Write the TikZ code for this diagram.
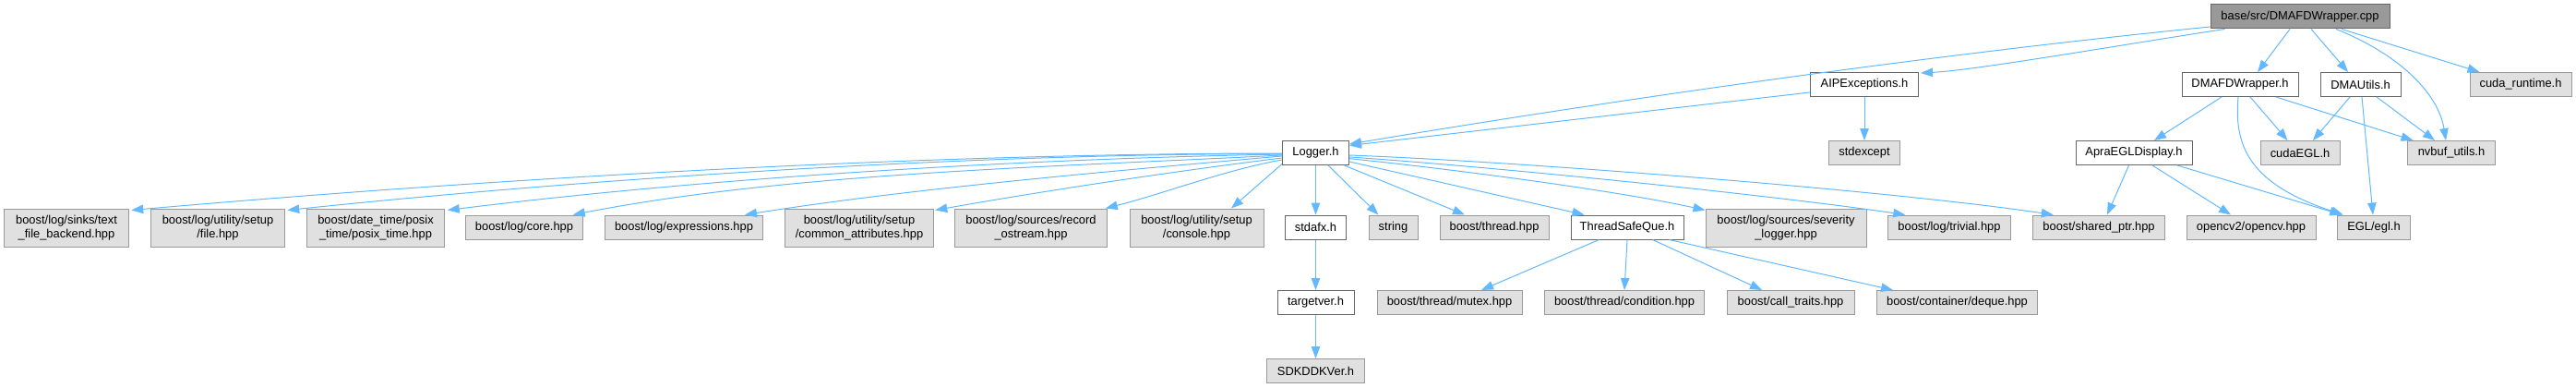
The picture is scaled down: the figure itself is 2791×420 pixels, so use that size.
\documentclass[tikz,border=0pt]{standalone}
\usepackage{fontspec}
\setmainfont{Liberation Sans}
\usetikzlibrary{arrows.meta}
\definecolor{edgec}{HTML}{63B8FF}
\definecolor{gfill}{HTML}{E0E0E0}
\definecolor{gborder}{HTML}{999999}
\definecolor{wborder}{HTML}{666666}
\definecolor{rfill}{HTML}{999999}
\tikzset{
  base/.style={rectangle, draw, line width=1pt, inner sep=0pt, align=center,
    font=\fontsize{12.9}{15}\selectfont, text=black},
  gbox/.style={base, fill=gfill, draw=gborder},
  wbox/.style={base, fill=white, draw=wborder},
  rbox/.style={base, fill=rfill, draw=wborder},
  one/.style={minimum height=26pt},
  two/.style={minimum height=41pt},
  edge/.style={draw=edgec, line width=1pt, -{Triangle[length=13pt,width=9.5pt]}}
}
\begin{document}
\begin{tikzpicture}[x=1pt,y=-1pt]
\useasboundingbox (0,0) rectangle (2791,420);
% row 0
\node[rbox,one,minimum width=194pt] (root) at (2492,18) {base/src/DMAFDWrapper.cpp};
% row 1
\node[wbox,one,minimum width=117pt] (aip) at (2020,91.5) {AIPExceptions.h};
\node[wbox,one,minimum width=126pt] (dmafdh) at (2427,91.5) {DMAFDWrapper.h};
\node[wbox,one,minimum width=87pt] (dmautils) at (2557.5,91.5) {DMAUtils.h};
\node[gbox,one,minimum width=110pt] (cudart) at (2731,91.5) {cuda\_runtime.h};
% row 2
\node[wbox,one,minimum width=72pt] (logger) at (1425.5,165.5) {Logger.h};
\node[gbox,one,minimum width=77pt] (stdexcept) at (2020,165.5) {stdexcept};
\node[wbox,one,minimum width=126pt] (apra) at (2312,165.5) {ApraEGLDisplay.h};
\node[gbox,one,minimum width=86pt] (cudaegl) at (2492,165.5) {cudaEGL.h};
\node[gbox,one,minimum width=95pt] (nvbuf) at (2656,165.5) {nvbuf\_utils.h};
% row 3
\node[gbox,two,minimum width=135.5pt] (tfb) at (72,246.5) {boost/log/sinks/text\\\_file\_backend.hpp};
\node[gbox,two,minimum width=144.5pt] (file) at (236,246.5) {boost/log/utility/setup\\/file.hpp};
\node[gbox,two,minimum width=148.5pt] (posix) at (407,246.5) {boost/date\_time/posix\\\_time/posix\_time.hpp};
\node[gbox,one,minimum width=127.5pt] (core) at (568,246) {boost/log/core.hpp};
\node[gbox,one,minimum width=171.5pt] (expr) at (741,246) {boost/log/expressions.hpp};
\node[gbox,two,minimum width=160.5pt] (common) at (931,246.5) {boost/log/utility/setup\\/common\_attributes.hpp};
\node[gbox,two,minimum width=164.5pt] (record) at (1117,246.5) {boost/log/sources/record\\\_ostream.hpp};
\node[gbox,two,minimum width=145pt] (console) at (1296.5,246.5) {boost/log/utility/setup\\/console.hpp};
\node[wbox,one,minimum width=66.5pt] (stdafx) at (1425.5,246) {stdafx.h};
\node[gbox,one,minimum width=53pt] (string) at (1509.5,246) {string};
\node[gbox,one,minimum width=118pt] (thread) at (1619,246) {boost/thread.hpp};
\node[wbox,one,minimum width=122pt] (tsq) at (1763,246) {ThreadSafeQue.h};
\node[gbox,two,minimum width=174pt] (sev) at (1935,246.5) {boost/log/sources/severity\\\_logger.hpp};
\node[gbox,one,minimum width=133.5pt] (trivial) at (2112,246) {boost/log/trivial.hpp};
\node[gbox,one,minimum width=142.5pt] (shared) at (2274,246) {boost/shared\_ptr.hpp};
\node[gbox,one,minimum width=140pt] (opencv) at (2439,246) {opencv2/opencv.hpp};
\node[gbox,one,minimum width=78.5pt] (egl) at (2572,246) {EGL/egl.h};
% row 4
\node[wbox,one,minimum width=83pt] (targetver) at (1425.5,327.5) {targetver.h};
\node[gbox,one,minimum width=157pt] (mutex) at (1570.5,327.5) {boost/thread/mutex.hpp};
\node[gbox,one,minimum width=173pt] (cond) at (1760,327.5) {boost/thread/condition.hpp};
\node[gbox,one,minimum width=138pt] (calltr) at (1940,327.5) {boost/call\_traits.hpp};
\node[gbox,one,minimum width=174pt] (deque) at (2120.5,327.5) {boost/container/deque.hpp};
% row 5
\node[gbox,one,minimum width=106pt] (sdk) at (1425.5,401.5) {SDKDDKVer.h};

% edges from root
\draw[edge] ([yshift=2.5pt]root.south west) .. controls +(-300,30) and +(300,-50) .. ([yshift=-4pt]logger.north east);
\draw[edge] ([xshift=16pt]root.south west) .. controls +(-100,15) and +(60,-3) .. ([xshift=2pt,yshift=-1pt]aip.north east);
\draw[edge] ([xshift=-11pt]root.south) -- ([xshift=19pt]dmafdh.north);
\draw[edge] ([xshift=12pt]root.south) -- ([xshift=-13.5pt]dmautils.north);
\draw[edge] ([xshift=39pt]root.south) .. controls +(70,28) and +(-8,-50) .. ([xshift=-6pt]nvbuf.north);
\draw[edge] ([xshift=45pt]root.south) -- ([xshift=11pt]cudart.north west);
% AIPExceptions
\draw[edge] ([yshift=-8.5pt]aip.west) -- ([yshift=-5.5pt]logger.north east);
\draw[edge] (aip.south) -- (stdexcept.north);
% DMAFDWrapper.h
\draw[edge] ([xshift=-20pt]dmafdh.south) -- ([xshift=22pt]apra.north);
\draw[edge] ([xshift=11pt]dmafdh.south) -- ([xshift=-13.5pt]cudaegl.north);
\draw[edge] ([xshift=39pt]dmafdh.south) -- ([xshift=6.5pt]nvbuf.north west);
\draw[edge] ([xshift=-2pt]dmafdh.south) .. controls +(-5,55) and +(-100,-33) .. ([xshift=6.5pt]egl.north west);
% DMAUtils.h
\draw[edge] ([xshift=-11.5pt]dmautils.south) -- ([xshift=14pt]cudaegl.north);
\draw[edge] ([xshift=17.5pt]dmautils.south) -- ([xshift=-18pt]nvbuf.north);
\draw[edge] ([xshift=1.5pt]dmautils.south) -- ([xshift=-1pt]egl.north);
% ApraEGLDisplay.h
\draw[edge] ([xshift=-5.5pt]apra.south) -- ([xshift=9pt]shared.north);
\draw[edge] ([xshift=20pt]apra.south) -- ([xshift=-22pt]opencv.north);
\draw[edge] ([xshift=47pt]apra.south) -- ([xshift=5pt]egl.north west);
% Logger.h right side
\draw[edge] ([yshift=-2.5pt]logger.east) .. controls +(188,7) and +(-175,-26) .. ([xshift=22.5pt]shared.north west);
\draw[edge] ([yshift=-4.5pt]logger.east) .. controls +(150,10) and +(-150,-22) .. ([xshift=19.5pt]trivial.north west);
\draw[edge] ([yshift=-6.2pt]logger.east) .. controls +(100,10) and +(-100,-22) .. ([yshift=-2pt]sev.north west);
\draw[edge] ([yshift=-9.5pt]logger.east) -- ([xshift=15pt]tsq.north west);
\draw[edge] ([xshift=-5.5pt]logger.south east) -- ([xshift=27.5pt]thread.north west);
\draw[edge] ([xshift=13.5pt]logger.south) -- ([xshift=11pt]string.north west);
\draw[edge] (logger.south) -- (stdafx.north);
% Logger.h left side
\draw[edge] ([yshift=1.5pt]logger.south west) -- ([xshift=37.5pt]console.north);
\draw[edge] ([yshift=-7.5pt]logger.west) .. controls +(-61,10.8) and +(60,-15) .. ([xshift=-2pt]record.north east);
\draw[edge] ([yshift=-5.5pt]logger.west) .. controls +(-118,14.5) and +(117,-20.7) .. ([xshift=1.5pt,yshift=-2pt]common.north east);
\draw[edge] ([yshift=-3.5pt]logger.west) .. controls +(-182,16) and +(181,-28.6) .. ([xshift=66pt]expr.north);
\draw[edge] ([yshift=-2.5pt]logger.west) .. controls +(-241,12.6) and +(236.6,-46) .. ([xshift=-11.5pt]core.north east);
\draw[edge] ([yshift=-1.5pt]logger.west) .. controls +(-284,5) and +(282,-35) .. ([xshift=3pt,yshift=-2pt]posix.north east);
\draw[edge] ([yshift=-1pt]logger.west) .. controls +(-338,0) and +(336,-35) .. ([xshift=2.5pt,yshift=-2pt]file.north east);
\draw[edge] ([yshift=-0.5pt]logger.west) .. controls +(-390,0) and +(388.5,-34) .. ([xshift=2pt,yshift=-2pt]tfb.north east);
% stdafx chain
\draw[edge] (stdafx.south) -- (targetver.north);
\draw[edge] (targetver.south) -- (sdk.north);
% ThreadSafeQue.h
\draw[edge] ([xshift=-30.5pt]tsq.south) -- ([xshift=34.5pt]mutex.north);
\draw[edge] (tsq.south) -- (cond.north);
\draw[edge] ([xshift=27.5pt]tsq.south) -- ([xshift=-31pt]calltr.north);
\draw[edge] ([xshift=45.5pt]tsq.south) -- ([xshift=18pt]deque.north west);
\end{tikzpicture}
\end{document}
